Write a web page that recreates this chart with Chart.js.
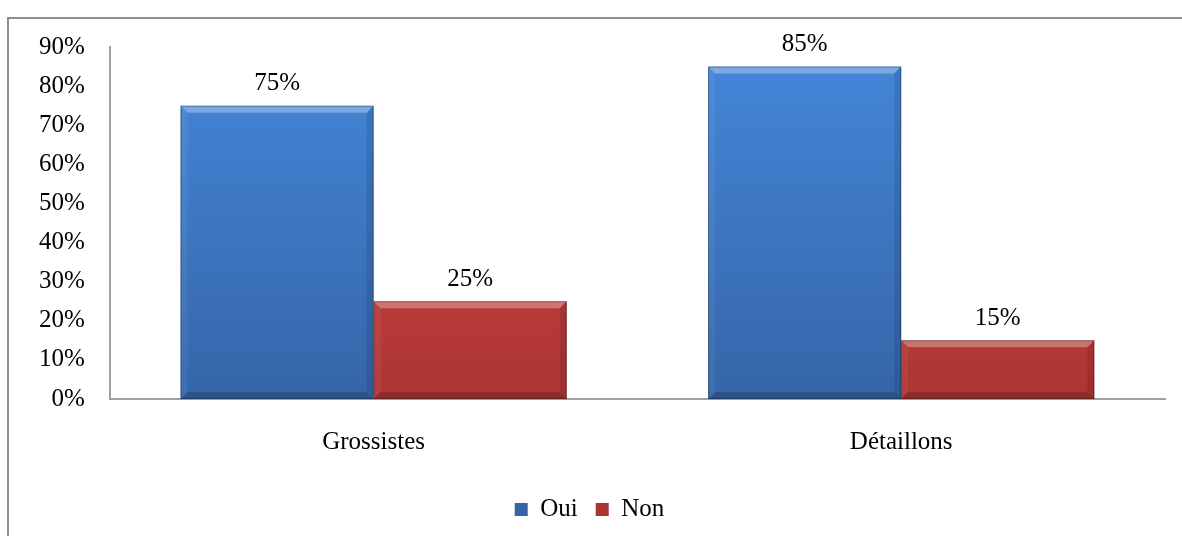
<!DOCTYPE html>
<html>
<head>
<meta charset="utf-8">
<script src="https://cdn.jsdelivr.net/npm/chart.js@4"></script>
<style>
  body { margin: 0; background: #fff; overflow: hidden; }
  .frame {
    position: absolute; left: 7px; top: 17px;
    width: 1180px; height: 530px;
    border-left: 2px solid #8e8e8e; border-top: 2px solid #8e8e8e;
  }
  .box { position: absolute; left: 0; top: 0; width: 1173px; height: 517px; }
</style>
</head>
<body>
<div class="frame"><div class="box"><canvas id="chart"></canvas></div></div>
<script>
const categories = ['Grossistes', 'Détaillons'];
const oui = [75, 85];
const non = [25, 15];
const seriesNames = ['Oui', 'Non'];

const fontFamily = '"Liberation Serif", "Times New Roman", serif';
const fontSize = 25;

// vertical gradient for the bar bodies
function barFill(top, bottom) {
    return function(context) {
        const area = context.chart.chartArea;
        if (!area) return top;
        const g = context.chart.ctx.createLinearGradient(0, area.top, 0, area.bottom);
        g.addColorStop(0, top);
        g.addColorStop(1, bottom);
        return g;
    };
}

// bevel edges + value labels on top of each bar
const bevelPlugin = {
    id: 'bevel',
    afterDatasetsDraw(chart) {
        const ctx = chart.ctx;
        chart.data.datasets.forEach((ds, i) => {
            chart.getDatasetMeta(i).data.forEach((bar, j) => {
                const l = bar.x - bar.width / 2, r = bar.x + bar.width / 2;
                const t = bar.y, b = bar.base;
                const s = 7;
                ctx.save();
                const quad = (pts, fill) => {
                    ctx.beginPath();
                    ctx.moveTo(pts[0][0], pts[0][1]);
                    pts.slice(1).forEach(p => ctx.lineTo(p[0], p[1]));
                    ctx.closePath();
                    ctx.fillStyle = fill;
                    ctx.fill();
                };
                quad([[l, t], [r, t], [r - s, t + s], [l + s, t + s]], 'rgba(255,255,255,0.3)');
                quad([[l, t], [l + s, t + s], [l + s, b - s], [l, b]], 'rgba(255,255,255,0.06)');
                quad([[r, t], [r - s, t + s], [r - s, b - s], [r, b]], 'rgba(0,0,0,0.1)');
                quad([[l, b], [l + s, b - s], [r - s, b - s], [r, b]], 'rgba(0,0,0,0.18)');
                ctx.strokeStyle = 'rgba(0,0,0,0.3)';
                ctx.lineWidth = 1;
                ctx.strokeRect(l + 0.5, t + 0.5, r - l - 1, b - t - 1);

                ctx.fillStyle = '#000';
                ctx.font = fontSize + 'px ' + fontFamily;
                ctx.textAlign = 'center';
                ctx.textBaseline = 'middle';
                ctx.fillText(ds.data[j] + '%', bar.x, t - 22);
                ctx.restore();
            });
        });
    }
};

new Chart(document.getElementById('chart'), {
    type: 'bar',
    data: {
        labels: categories,
        datasets: [{
            label: seriesNames[0],
            data: oui,
            backgroundColor: barFill('#4587da', '#3565a8'),
            borderWidth: 0
        }, {
            label: seriesNames[1],
            data: non,
            backgroundColor: barFill('#dc4a48', '#ac3533'),
            borderWidth: 0
        }]
    },
    options: {
        responsive: true,
        maintainAspectRatio: false,
        animation: false,
        layout: { padding: { left: 5, right: 17, top: 28, bottom: 4 } },
        plugins: {
            legend: {
                position: 'bottom',
                labels: {
                    color: '#000',
                    font: { family: fontFamily, size: fontSize },
                    boxWidth: 13,
                    boxHeight: 13,
                    padding: 18
                }
            },
            tooltip: { enabled: false }
        },
        datasets: { bar: { categoryPercentage: 0.732, barPercentage: 1 } },
        scales: {
            x: {
                grid: { display: false, drawTicks: false },
                border: { display: true, color: '#a0a0a0', width: 2 },
                ticks: { color: '#000', font: { family: fontFamily, size: fontSize }, padding: 28 },
                afterFit: scale => { scale.height -= 6; }
            },
            y: {
                min: 0,
                max: 90,
                grid: { display: false, drawTicks: false },
                border: { display: true, color: '#a0a0a0', width: 2 },
                ticks: {
                    stepSize: 10,
                    color: '#000',
                    font: { family: fontFamily, size: fontSize },
                    padding: 25,
                    callback: v => v + '%'
                },
                afterFit: scale => { scale.paddingTop = 0; }
            }
        }
    },
    plugins: [bevelPlugin]
});
</script>
</body>
</html>
